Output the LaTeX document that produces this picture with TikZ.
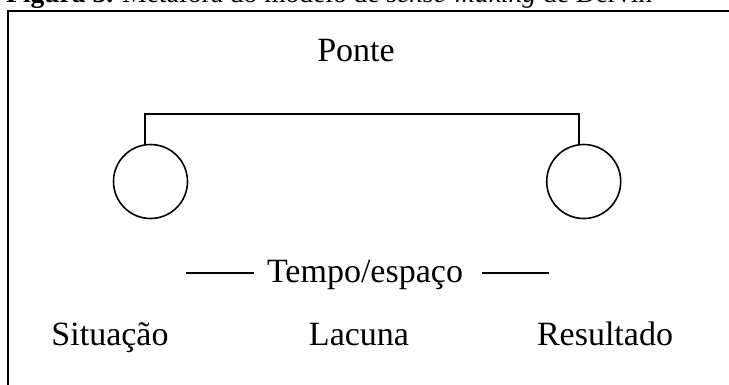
\documentclass[tikz,border=0pt]{standalone}
\usepackage{fontspec}
\setmainfont{Liberation Serif}
\begin{document}
\begin{tikzpicture}[x=1pt,y=-1pt,
  lbl/.style={font=\fontsize{34}{40}\selectfont, inner sep=0pt, anchor=base},
  ring/.style={circle, draw, line width=1.6pt, minimum size=74pt, inner sep=0pt},
  ln/.style={line width=1.6pt}]
\useasboundingbox (0,0) rectangle (729,384);
\clip (0,0) rectangle (729,384);
\node[font=\fontsize{27.5}{32}\selectfont, inner sep=0pt, anchor=base west] (cap) at (6,2)
  {\textbf{Figura 3.} Metáfora do modelo de \textit{sense-making} de Dervin};
\draw[line width=2pt] (8,11) rectangle (760,420);
\node[lbl] (ponte) at (356,61) {Ponte};
\node[ring] (c1) at (150.5,181.5) {};
\node[ring] (c2) at (583.7,181.5) {};
\draw[ln] ([xshift=-5.5pt]c1.north) -- ++(0,-30) -| ([xshift=-4.7pt]c2.north);
\node[lbl] (tempo) at (365,282) {Tempo/espaço};
\coordinate (d1a) at (186,273);
\coordinate (d2b) at (549,273);
\draw[ln] (d1a) -- ([xshift=-13pt]tempo.west |- d1a);
\draw[ln] ([xshift=19pt]tempo.east |- d2b) -- (d2b);
\node[lbl] (sit) at (110,345) {Situação};
\node[lbl] (lac) at (359,345) {Lacuna};
\node[lbl] (res) at (605,345) {Resultado};
\end{tikzpicture}
\end{document}
